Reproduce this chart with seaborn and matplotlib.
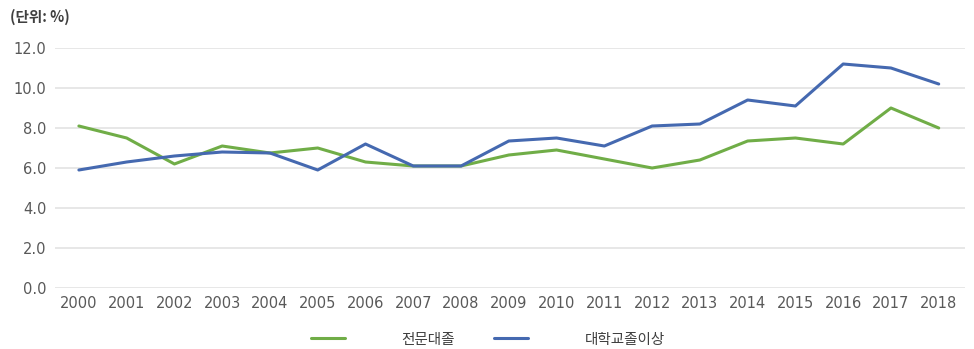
import matplotlib
matplotlib.use("Agg")
import matplotlib.pyplot as plt
import seaborn as sns
import pandas as pd

years = list(range(2000, 2019))
college = [8.1, 7.5, 6.2, 7.1, 6.75, 7.0, 6.3, 6.1, 6.1, 6.65, 6.9, 6.45, 6.0, 6.4, 7.35, 7.5, 7.2, 9.0, 8.0]
university = [5.9, 6.3, 6.6, 6.8, 6.75, 5.9, 7.2, 6.1, 6.1, 7.35, 7.5, 7.1, 8.1, 8.2, 9.4, 9.1, 11.2, 11.0, 10.2]
series_names = ["전문대졸", "대학교졸이상"]
yticks = [0, 2, 4, 6, 8, 10, 12]
unit_label = "(단위: %)"

sns.set_theme(style="white")
plt.rcParams['font.family'] = ['Noto Sans CJK KR', 'DejaVu Sans']

df = pd.DataFrame({
    "year": years * 2,
    "value": college + university,
    "series": [series_names[0]] * len(years) + [series_names[1]] * len(years),
})

fig = plt.figure(figsize=(9.74, 3.49), dpi=100)
ax = fig.add_axes([55 / 974, 1 - 288 / 349, (965 - 55) / 974, (288 - 48) / 349])

sns.lineplot(data=df, x="year", y="value", hue="series",
             palette={series_names[0]: "#70AD47", series_names[1]: "#4569B0"},
             linewidth=2.2, ax=ax, legend=True)

ax.set_xlim(1999.5, 2018.55)
ax.set_ylim(0, 12)
ax.set_yticks(yticks)
ax.set_yticklabels([f"{v:.1f}" for v in yticks], family=['DejaVu Sans'])
ax.set_xticks(years)
ax.set_xticklabels([str(y) for y in years], family=['DejaVu Sans'])
ax.tick_params(axis="both", colors="#595959", labelsize=10.5, length=0, pad=6)
ax.yaxis.grid(True, color="#E3E3E3", linewidth=1.2)
ax.set_axisbelow(True)
for s in ax.spines.values():
    s.set_visible(False)
ax.set_xlabel("")
ax.set_ylabel("")

handles, labels = ax.get_legend_handles_labels()
ax.legend(handles, labels, loc="center", bbox_to_anchor=(0.476, -0.215),
          ncol=2, frameon=False, handlelength=2.3, handletextpad=3.9,
          columnspacing=2.7, fontsize=10.5, labelcolor="#404040",
          borderaxespad=0, borderpad=0)

fig.text(10 / 974, 1 - 17 / 349, unit_label, fontsize=10.5, color="#404040",
         va="center", ha="left", fontweight="bold")

fig.savefig("out.png", dpi=100)
